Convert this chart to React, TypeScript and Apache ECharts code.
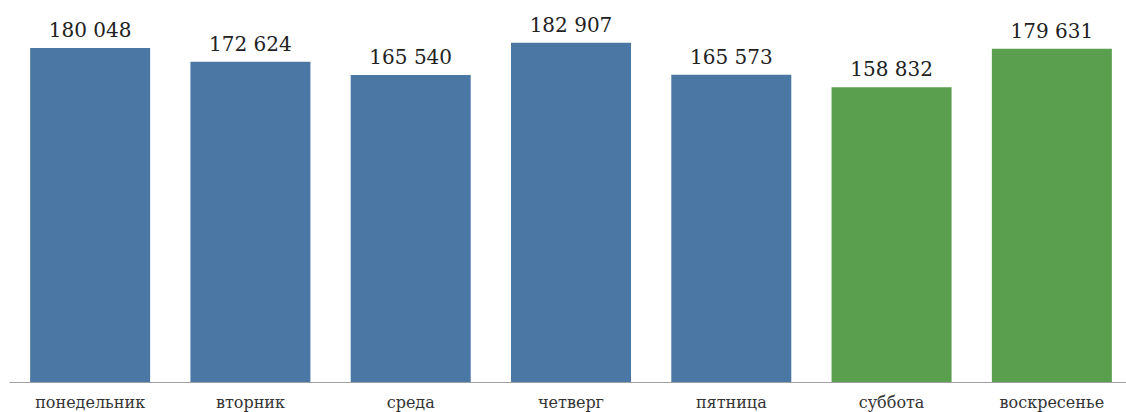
import React, { useEffect, useRef } from "react";
import * as echarts from "echarts";

const categories = ["понедельник", "вторник", "среда", "четверг", "пятница", "суббота", "воскресенье"];
const values = [180048, 172624, 165540, 182907, 165573, 158832, 179631];
const weekend = [false, false, false, false, false, true, true];

const BLUE = "#4b77a5";
const GREEN = "#5a9f4d";
const SERIF = "DejaVu Serif";

function fmt(v: number): string {
  const s = String(v);
  return s.replace(/\B(?=(\d{3})+(?!\d))/g, " ");
}

export default function App() {
  const ref = useRef<HTMLDivElement>(null);
  useEffect(() => {
    if (!ref.current) return;
    const chart = echarts.init(ref.current, undefined, { renderer: "svg" });
    chart.setOption({
      animation: false,
      backgroundColor: "#ffffff",
      grid: { left: 10, width: 1122, top: 11, height: 371, outerBoundsMode: "none" },
      xAxis: {
        type: "category",
        data: categories,
        axisLine: { show: true, lineStyle: { color: "#a0a0a0", width: 1 } },
        axisTick: { show: false },
        axisLabel: {
          color: "#333333",
          fontFamily: SERIF,
          fontSize: 16,
          margin: 12,
          interval: 0,
        },
      },
      yAxis: {
        type: "value",
        min: 0,
        max: 200000,
        show: false,
        splitLine: { show: false },
      },
      series: [
        {
          type: "bar",
          barWidth: 120,
          data: values.map((v, i) => ({
            value: v,
            itemStyle: { color: weekend[i] ? GREEN : BLUE },
          })),
          label: {
            show: true,
            position: "top",
            distance: 8,
            color: "#222222",
            fontFamily: SERIF,
            fontSize: 20,
            formatter: (p: any) => fmt(p.value),
          },
        },
      ],
    });
    return () => chart.dispose();
  }, []);
  return (
    <div
      ref={ref}
      style={{ position: "absolute", left: 0, top: 0, width: 1126, height: 412 }}
    />
  );
}
